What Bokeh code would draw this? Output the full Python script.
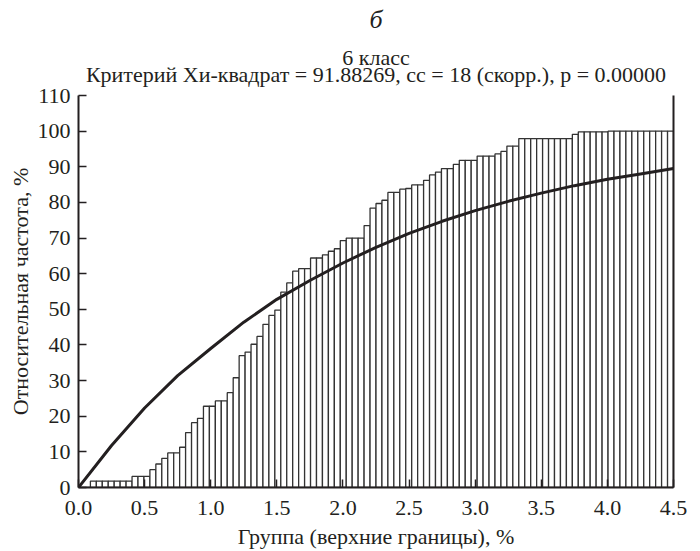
import numpy as np
from bokeh.plotting import figure
from bokeh.models import Range1d, FixedTicker, LinearAxis, Title
from bokeh.embed import file_html
from bokeh.resources import INLINE

# ---- data ----
n_groups = 100
group_width = 0.045
# relative cumulative frequency (%) for each group
rel_freq = [
    0, 0,
    1.8, 1.8, 1.8, 1.8, 1.8, 1.8, 1.8,
    3.1, 3.1, 3.1,
    5.0, 6.6, 8.2, 9.7, 9.7, 11.3, 15.4, 18.2, 19.4,
    22.8, 22.8, 24.3, 24.3, 26.6, 30.8, 37.0, 38.0, 40.2, 42.4,
    45.8, 48.3, 49.8, 54.8, 57.4, 60.7, 61.4, 61.4, 64.4, 64.4,
    65.3, 66.3, 67.0, 69.3, 70.0, 70.0, 70.0, 73.5, 78.4, 79.7,
    80.6, 82.8, 82.8, 83.7, 83.9, 84.9, 84.9, 86.2, 87.7, 88.5,
    89.5, 89.5, 90.7, 91.8, 91.8, 91.8, 93.0, 93.0, 93.0, 93.6,
    94.3, 95.8, 95.8,
    97.9, 97.9, 97.9, 97.9, 97.9, 97.9, 97.9, 97.9, 97.9,
    99.1,
    99.8, 99.8, 99.8, 99.8, 99.8,
    100, 100, 100, 100, 100, 100, 100, 100, 100, 100, 100,
]
# expected (theoretical) cumulative curve, read at 0.25 steps
curve_x = [0, 0.25, 0.5, 0.75, 1.0, 1.25, 1.5, 1.75, 2.0, 2.25, 2.5,
           2.75, 3.0, 3.25, 3.5, 3.75, 4.0, 4.25, 4.5]
curve_y = [0, 11.8, 22.3, 31.4, 39.0, 46.4, 52.8, 58.1, 63.0, 67.4, 71.3,
           74.7, 77.7, 80.3, 82.6, 84.7, 86.5, 88.0, 89.5]
x_ticks = [0, 0.5, 1.0, 1.5, 2.0, 2.5, 3.0, 3.5, 4.0, 4.5]
y_ticks = [0, 10, 20, 30, 40, 50, 60, 70, 80, 90, 100, 110]

title_panel = "б"
title_class = "6 класс"
title_test = "Критерий Хи-квадрат = 91.88269, сс = 18 (скорр.), р = 0.00000"
x_label = "Группа (верхние границы), %"
y_label = "Относительная частота, %"

upper = np.arange(1, n_groups + 1) * group_width
lower = upper - group_width

ink = "#231f20"
serif = "Liberation Serif"

p = figure(width=700, height=551,
           x_range=Range1d(0, 4.5), y_range=Range1d(0, 110),
           output_backend="svg", toolbar_location=None,
           min_border_left=78, min_border_right=27,
           min_border_top=95, min_border_bottom=64)
p.outline_line_color = None
p.background_fill_color = "white"
p.border_fill_color = "white"
p.xgrid.visible = False
p.ygrid.visible = False

p.quad(left=lower, right=upper, bottom=0, top=rel_freq,
       fill_color="white", line_color="#333333", line_width=1.3)
p.line(curve_x, curve_y, line_color=ink, line_width=3)

for ax, ticks in ((p.xaxis[0], x_ticks), (p.yaxis[0], y_ticks)):
    ax.ticker = FixedTicker(ticks=ticks)
    ax.major_tick_in = 8
    ax.major_tick_out = 0
    ax.minor_tick_line_color = None
    ax.axis_line_width = 2
    ax.axis_line_color = ink
    ax.major_tick_line_color = ink
    ax.major_tick_line_width = 1.5
    ax.major_label_text_font = serif
    ax.major_label_text_font_size = "22px"
    ax.major_label_text_color = ink
    ax.axis_label_text_font = serif
    ax.axis_label_text_font_size = "22px"
    ax.axis_label_text_font_style = "normal"
    ax.axis_label_text_color = ink

p.xaxis[0].major_label_overrides = {t: f"{t:.1f}" for t in x_ticks}
p.xaxis[0].axis_label = x_label
p.xaxis[0].major_label_standoff = 13
p.xaxis[0].axis_label_standoff = 6
p.yaxis[0].axis_label = y_label
p.yaxis[0].major_label_standoff = 8
p.yaxis[0].axis_label_standoff = 2

right = LinearAxis(ticker=FixedTicker(ticks=[]), axis_line_width=2,
                   axis_line_color=ink, major_tick_line_color=None,
                   minor_tick_line_color=None, major_label_text_color=None)
p.add_layout(right, "right")

p.add_layout(Title(text=title_class + "\n" + title_test, align="center",
                   text_align="center", text_font=serif,
                   text_font_size="22px", text_font_style="normal",
                   text_line_height=0.70, text_color=ink, standoff=17),
             "above")
p.add_layout(Title(text=title_panel, align="center", text_font=serif,
                   text_font_size="26px", text_font_style="italic",
                   text_color=ink, standoff=0), "above")

open("out.html", "w").write(file_html(p, INLINE))
